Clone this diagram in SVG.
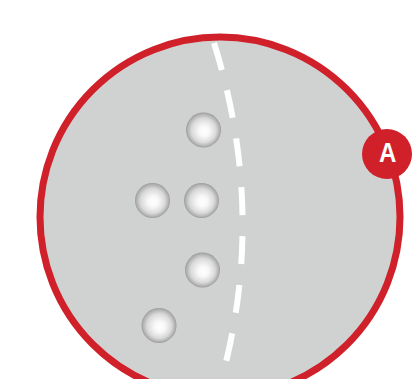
<svg xmlns="http://www.w3.org/2000/svg" width="419" height="379" viewBox="0 0 419 379">
<style>
.ball{fill:url(#bg)}
.ring{fill:#d0d1d1;stroke:#d0202a;stroke-width:7}
.dash{fill:none;stroke:#ffffff;stroke-width:6;stroke-dasharray:28 21}
.lbl{font-family:"Liberation Sans",Arial,sans-serif;font-size:28px;font-weight:bold;fill:#ffffff;text-anchor:middle}
</style>
<defs>
<radialGradient id="bg" cx="0.5" cy="0.5" r="0.5" fx="0.53" fy="0.55">
<stop offset="0" stop-color="#ffffff"/>
<stop offset="0.3" stop-color="#f8f8f8"/>
<stop offset="0.7" stop-color="#d9d9d9"/>
<stop offset="0.9" stop-color="#b4b4b4"/>
<stop offset="1" stop-color="#9c9c9c"/>
</radialGradient>
</defs>
<rect width="419" height="379" fill="#ffffff"/>
<g id="disc">
<circle class="ring" cx="220" cy="217" r="180"/>
</g>
<g id="connectors">
<path class="dash" d="M214 43 Q268 215 220 385"/>
</g>
<g id="balls">
<circle id="ball1" class="ball" cx="203.5" cy="130" r="17.5"/>
<circle id="ball2" class="ball" cx="152.5" cy="200.5" r="17.5"/>
<circle id="ball3" class="ball" cx="201.5" cy="200.5" r="17.5"/>
<circle id="ball4" class="ball" cx="202.5" cy="270" r="17.5"/>
<circle id="ball5" class="ball" cx="159" cy="325.5" r="17.5"/>
</g>
<g id="badgeA">
<circle cx="387" cy="154" r="25" fill="#d0202a"/>
<text class="lbl" x="387.7" y="162.5" transform="translate(387.7 0) scale(0.86 1) translate(-387.7 0)">A</text>
</g>
</svg>
